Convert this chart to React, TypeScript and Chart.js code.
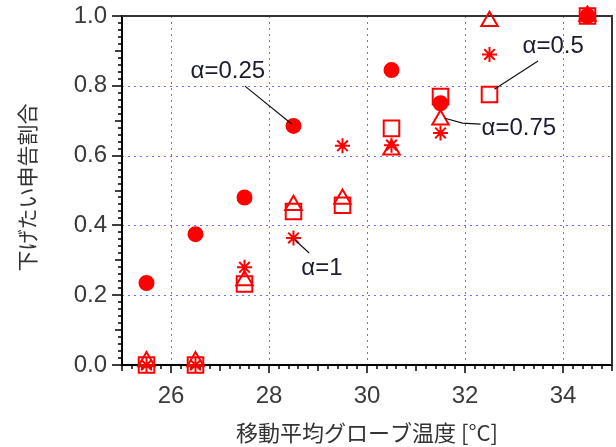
import React, { useEffect, useRef } from "react";
import { Chart, registerables } from "chart.js";

Chart.register(...registerables);

// ---- data ----
const temps = [25.5, 26.5, 27.5, 28.5, 29.5, 30.5, 31.5, 32.5, 34.5];
const alpha025 = [0.235, 0.375, 0.48, 0.685, null, 0.845, 0.75, null, 1.0];
const alpha05 = [0, 0, 0.232, 0.44, 0.458, 0.678, 0.769, 0.775, 1.0];
const alpha075 = [0.01, 0.01, 0.242, 0.458, 0.476, 0.617, 0.703, 0.985, 1.0];
const alpha1 = [0, 0, 0.28, 0.364, 0.628, 0.63, 0.665, 0.89, 1.0];
const seriesLabels = ["α=0.25", "α=0.5", "α=0.75", "α=1"];
const xTickValues = [26, 28, 30, 32, 34];
const yTickValues = [0, 0.2, 0.4, 0.6, 0.8, 1.0];
const xTitle = "移動平均グローブ温度 [°C]";
const yTitle = "下げたい申告割合";

// callouts (data coordinates)
const callouts = [
  { text: "α=0.25", at: [27.16, 0.84], line: [[27.51, 0.799], [28.47, 0.69]] },
  { text: "α=0.5", at: [33.8, 0.914], line: [[33.49, 0.871], [32.6, 0.79]] },
  { text: "α=0.75", at: [33.1, 0.679], line: [[31.59, 0.707], [31.95, 0.693], [32.32, 0.69]] },
  { text: "α=1", at: [29.08, 0.278], line: [[28.53, 0.358], [28.82, 0.321]] },
];

const RED = "#ff0000";
const TICK_FONT = "24px 'Liberation Sans', Arial, sans-serif";

const decorPlugin = {
  id: "decor",
  beforeDatasetsDraw(chart: any) {
    const { ctx, chartArea: a, scales } = chart;
    const xs = scales.x, ys = scales.y;
    ctx.save();
    // dotted grid
    ctx.strokeStyle = "#6c6cff";
    ctx.lineWidth = 1;
    ctx.setLineDash([2, 4]);
    xTickValues.forEach((v) => {
      const px = Math.round(xs.getPixelForValue(v)) + 0.5;
      ctx.beginPath();
      ctx.moveTo(px, a.top);
      ctx.lineTo(px, a.bottom);
      ctx.stroke();
    });
    yTickValues.forEach((v) => {
      if (v <= 0 || v >= 1) return;
      const py = Math.round(ys.getPixelForValue(v)) + 0.5;
      ctx.beginPath();
      ctx.moveTo(a.left, py);
      ctx.lineTo(a.right, py);
      ctx.stroke();
    });
    ctx.setLineDash([]);
    // frame
    ctx.lineWidth = 2;
    ctx.strokeStyle = "#000000";
    ctx.beginPath();
    ctx.moveTo(a.left, a.top - 1);
    ctx.lineTo(a.left, a.bottom);
    ctx.lineTo(a.right + 1, a.bottom);
    ctx.stroke();
    ctx.strokeStyle = "#333333";
    ctx.beginPath();
    ctx.moveTo(a.left, a.top);
    ctx.lineTo(a.right, a.top);
    ctx.lineTo(a.right, a.bottom);
    ctx.stroke();
    // ticks
    ctx.strokeStyle = "#000000";
    ctx.lineWidth = 1.5;
    ctx.beginPath();
    for (let i = 0; i <= 50; i++) {
      const v = 25 + i * 0.2;
      const px = Math.round(xs.getPixelForValue(v));
      const iv = Math.round(v * 10) / 10;
      let len = 4;
      if (Math.abs(iv - Math.round(iv)) < 1e-6) {
        len = Math.round(iv) % 2 === 0 ? 8 : 6;
      }
      ctx.moveTo(px, a.bottom);
      ctx.lineTo(px, a.bottom + len);
    }
    for (let i = 0; i <= 50; i++) {
      const v = i * 0.02;
      const py = Math.round(ys.getPixelForValue(v));
      let len = 4;
      if (i % 10 === 0) len = 10;
      else if (i % 5 === 0) len = 7;
      ctx.moveTo(a.left, py);
      ctx.lineTo(a.left - len, py);
    }
    ctx.stroke();
    ctx.restore();
  },
  afterDraw(chart: any) {
    const { ctx, chartArea: a, scales } = chart;
    const xs = scales.x, ys = scales.y;
    ctx.save();
    ctx.strokeStyle = "#111111";
    ctx.lineWidth = 1.2;
    callouts.forEach((c) => {
      ctx.beginPath();
      c.line.forEach((p, i) => {
        const px = xs.getPixelForValue(p[0]);
        const py = ys.getPixelForValue(p[1]);
        if (i === 0) ctx.moveTo(px, py);
        else ctx.lineTo(px, py);
      });
      ctx.stroke();
    });
    ctx.fillStyle = "#1c1c30";
    ctx.font = TICK_FONT;
    ctx.textAlign = "center";
    ctx.textBaseline = "middle";
    callouts.forEach((c) => {
      ctx.fillText(c.text, xs.getPixelForValue(c.at[0]), ys.getPixelForValue(c.at[1]));
    });
    ctx.fillStyle = "#333333";
    ctx.font = "22px 'Noto Sans CJK JP', sans-serif";
    ctx.fillText(xTitle, (a.left + a.right) / 2, 433);
    ctx.save();
    ctx.translate(27.5, 187.5);
    ctx.rotate(-Math.PI / 2);
    ctx.font = "21px 'Noto Sans CJK JP', sans-serif";
    ctx.fillText(yTitle, 0, 0);
    ctx.restore();
    ctx.restore();
  },
};

export default function App() {
  const ref = useRef<HTMLCanvasElement>(null);
  useEffect(() => {
    const mk = (label: string, data: any[], style: string, radius: number, filled: boolean) => ({
      label,
      data: temps.map((x, i) => ({ x, y: data[i] })),
      showLine: false,
      pointStyle: style,
      pointRadius: radius,
      pointHoverRadius: radius,
      pointBorderColor: RED,
      pointBackgroundColor: filled ? RED : "rgba(255,255,255,0)",
      pointBorderWidth: 2,
      borderColor: RED,
      backgroundColor: filled ? RED : "rgba(255,255,255,0)",
      clip: false as any,
    });
    const zeroPad = (s: any) => {
      s.paddingTop = 0;
      s.paddingBottom = 0;
      s.paddingLeft = 0;
      s.paddingRight = 0;
    };
    const chart = new Chart(ref.current!, {
      type: "scatter",
      data: {
        datasets: [
          mk(seriesLabels[0], alpha025, "circle", 7, true),
          mk(seriesLabels[1], alpha05, "rect", 11, false),
          mk(seriesLabels[2], alpha075, "triangle", 9.5, false),
          mk(seriesLabels[3], alpha1, "star", 7.5, false),
        ],
      },
      options: {
        animation: false,
        responsive: false,
        devicePixelRatio: 1,
        layout: { padding: { left: 0, right: 4, top: 16, bottom: 0 }, autoPadding: false },
        plugins: { legend: { display: false }, tooltip: { enabled: false } },
        scales: {
          x: {
            type: "linear",
            min: 25,
            max: 35,
            grid: { display: false, drawTicks: false },
            border: { display: false },
            afterBuildTicks: (s: any) => {
              s.ticks = xTickValues.map((v) => ({ value: v }));
            },
            afterFit: (s: any) => {
              s.height = 82;
              zeroPad(s);
            },
            ticks: {
              padding: 17,
              color: "#3a3a3a",
              font: { family: "'Liberation Sans', Arial, sans-serif", size: 24 },
              callback: (v: any) => String(v),
              maxRotation: 0,
            },
          },
          y: {
            type: "linear",
            min: 0,
            max: 1,
            grid: { display: false, drawTicks: false },
            border: { display: false },
            afterBuildTicks: (s: any) => {
              s.ticks = yTickValues.map((v) => ({ value: v }));
            },
            afterFit: (s: any) => {
              s.width = 122;
              zeroPad(s);
            },
            ticks: {
              padding: 15,
              color: "#3a3a3a",
              font: { family: "'Liberation Sans', Arial, sans-serif", size: 24 },
              callback: (v: any) => Number(v).toFixed(1),
            },
          },
        },
      },
      plugins: [decorPlugin],
    });
    return () => chart.destroy();
  }, []);
  return (
    <div style={{ position: "fixed", left: 0, top: 0, width: 616, height: 447, background: "#fff" }}>
      <canvas ref={ref} width={616} height={447} />
    </div>
  );
}
